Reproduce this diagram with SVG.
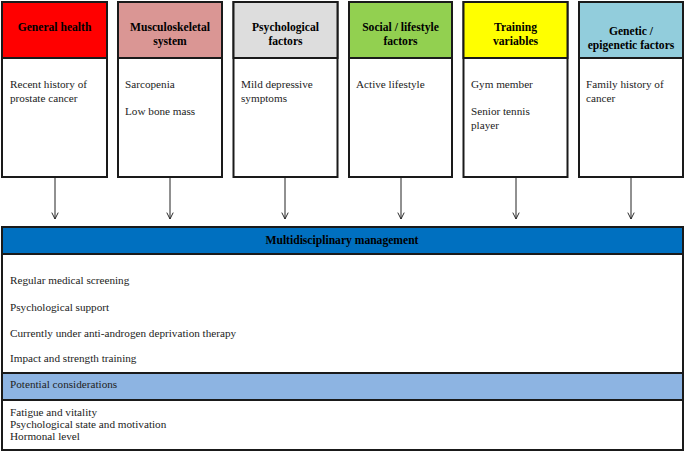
<svg xmlns="http://www.w3.org/2000/svg" width="685" height="454" viewBox="0 0 685 454">
<style>
.box{fill:#fff;stroke:#1a1a1a;stroke-width:2}
.hd{stroke:#1a1a1a;stroke-width:2}
.ht{font-family:"Liberation Serif","Times New Roman",serif;font-size:11.6px;font-weight:bold;text-anchor:middle;fill:#000}
.bt{font-family:"Liberation Serif","Times New Roman",serif;font-size:11.2px;fill:#222}
.arr{stroke:#222;stroke-width:1;fill:none}
</style>
<defs>
<marker id="ah" viewBox="0 0 10 10" refX="9" refY="5" markerWidth="8" markerHeight="8" orient="auto" markerUnits="userSpaceOnUse">
<path d="M1,1 L9,5 L1,9" fill="none" stroke="#222" stroke-width="1.2"/>
</marker>
</defs>
<rect width="685" height="454" fill="#fff"/>
<g id="general-health">
<rect class="box" x="2" y="2" width="105" height="175"/>
<rect class="hd" x="2" y="2" width="105" height="56" fill="#FF0000"/>
<text class="ht" x="54.5" y="31">General health</text>
<text class="bt" x="10" y="88">Recent history of</text>
<text class="bt" x="10" y="102">prostate cancer</text>
</g>
<g id="musculoskeletal">
<rect class="box" x="118" y="2" width="104" height="175"/>
<rect class="hd" x="118" y="2" width="104" height="56" fill="#DA9694"/>
<text class="ht" x="170" y="31">Musculoskeletal</text>
<text class="ht" x="170" y="45">system</text>
<text class="bt" x="125" y="88">Sarcopenia</text>
<text class="bt" x="125" y="115">Low bone  mass</text>
</g>
<g id="psychological">
<rect class="box" x="233.5" y="2" width="104" height="175"/>
<rect class="hd" x="233.5" y="2" width="104" height="56" fill="#DDDDDD"/>
<text class="ht" x="285.5" y="31">Psychological</text>
<text class="ht" x="285.5" y="45">factors</text>
<text class="bt" x="241" y="88">Mild depressive</text>
<text class="bt" x="241" y="102">symptoms</text>
</g>
<g id="social">
<rect class="box" x="349" y="2" width="103" height="175"/>
<rect class="hd" x="349" y="2" width="103" height="56" fill="#92D050"/>
<text class="ht" x="400.5" y="31">Social / lifestyle</text>
<text class="ht" x="400.5" y="45">factors</text>
<text class="bt" x="356" y="88">Active lifestyle</text>
</g>
<g id="training">
<rect class="box" x="463.5" y="2" width="104" height="175"/>
<rect class="hd" x="463.5" y="2" width="104" height="56" fill="#FFFF00"/>
<text class="ht" x="515.5" y="31">Training</text>
<text class="ht" x="515.5" y="45">variables</text>
<text class="bt" x="471" y="88">Gym member</text>
<text class="bt" x="471" y="115">Senior tennis</text>
<text class="bt" x="471" y="129">player</text>
</g>
<g id="genetic">
<rect class="box" x="579" y="2" width="104" height="175"/>
<rect class="hd" x="579" y="2" width="104" height="56" fill="#92CDDC"/>
<text class="ht" x="631" y="35">Genetic /</text>
<text class="ht" x="631" y="49">epigenetic factors</text>
<text class="bt" x="586" y="88">Family history of</text>
<text class="bt" x="586" y="102">cancer</text>
</g>
<g id="connectors">
<line class="arr" x1="55" y1="178" x2="55" y2="219" marker-end="url(#ah)"/>
<line class="arr" x1="170" y1="178" x2="170" y2="219" marker-end="url(#ah)"/>
<line class="arr" x1="285" y1="178" x2="285" y2="219" marker-end="url(#ah)"/>
<line class="arr" x1="401" y1="178" x2="401" y2="219" marker-end="url(#ah)"/>
<line class="arr" x1="516" y1="178" x2="516" y2="219" marker-end="url(#ah)"/>
<line class="arr" x1="631" y1="178" x2="631" y2="219" marker-end="url(#ah)"/>
</g>
<g id="management">
<rect class="box" x="2" y="227" width="681" height="223"/>
<rect class="hd" x="2" y="227" width="681" height="27" fill="#0070C0"/>
<text class="ht" x="342" y="244">Multidisciplinary management</text>
<text class="bt" x="10" y="284">Regular medical screening</text>
<text class="bt" x="10" y="311">Psychological support</text>
<text class="bt" x="10" y="337">Currently under anti-androgen deprivation therapy</text>
<text class="bt" x="10" y="362">Impact and strength training</text>
<rect class="hd" x="2" y="373" width="681" height="27" fill="#8DB4E2"/>
<text class="bt" x="10" y="388">Potential considerations</text>
<text class="bt" x="10" y="416">Fatigue and vitality</text>
<text class="bt" x="10" y="428">Psychological state and motivation</text>
<text class="bt" x="10" y="440">Hormonal level</text>
</g>
</svg>
